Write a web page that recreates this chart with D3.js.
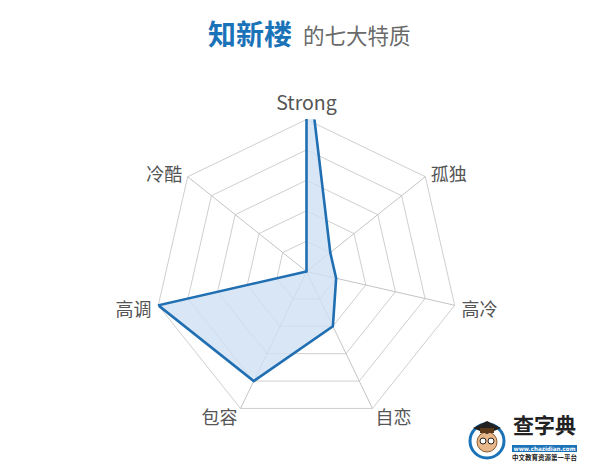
<!DOCTYPE html>
<html><head><meta charset="utf-8">
<script src="https://cdn.jsdelivr.net/npm/d3@7"></script>
<style>
html,body{margin:0;padding:0;background:#fff;}
svg{display:block;font-family:"Noto Sans CJK SC","Noto Sans",sans-serif;}
</style></head>
<body>
<svg id="chart" width="600" height="476"></svg>
<script>
const titleMain = "知新楼";
const titleSub = "的七大特质";
const categories = ["Strong", "孤独", "高冷", "自恋", "包容", "高调", "冷酷"];
const values = [7.2, 1, 1, 2, 4, 5, 0];
const ringTicks = [1, 2, 3, 4, 5];
const maxValue = 5;

const svg = d3.select("#chart");
const cx = 306.5, cy = 271.5, R = 152;
const r = d3.scaleLinear().domain([0, maxValue]).range([0, R]);
const ang = d3.scaleLinear().domain([0, categories.length]).range([0, 2 * Math.PI]);
const pt = (i, v) => [cx + Math.sin(ang(i)) * r(v), cy - Math.cos(ang(i)) * r(v)];

// title
svg.append("text").attr("x", 208).attr("y", 45).text(titleMain)
  .attr("font-size", 28).attr("font-weight", "bold").attr("fill", "#1a72b8");
svg.append("text").attr("x", 303).attr("y", 44).text(titleSub)
  .attr("font-size", 21.5).attr("fill", "#6a6a6a");

// grid rings
const g = svg.append("g");
ringTicks.forEach(tk => {
  g.append("polygon")
    .attr("points", categories.map((c, i) => pt(i, tk).join(",")).join(" "))
    .attr("fill", "none").attr("stroke", "#cfcfcf").attr("stroke-width", 1);
});
categories.forEach((c, i) => {
  const p = pt(i, maxValue);
  g.append("line").attr("x1", cx).attr("y1", cy).attr("x2", p[0]).attr("y2", p[1])
    .attr("stroke", "#c4c4c4").attr("stroke-width", 1);
});

// data polygon clipped to outer circle
svg.append("defs").append("clipPath").attr("id", "clip")
  .append("circle").attr("cx", cx).attr("cy", cy).attr("r", R + 0.5);
const line = d3.line().curve(d3.curveLinearClosed);
const pts = values.map((v, i) => pt(i, v));
svg.append("path").attr("d", line(pts)).attr("clip-path", "url(#clip)")
  .attr("fill", "#cfe0f2").attr("fill-opacity", 0.8)
  .attr("stroke", "#1f6fb2").attr("stroke-width", 2.6).attr("stroke-linejoin", "miter");

// axis labels
categories.forEach((c, i) => {
  const a = ang(i);
  const p = pt(i, maxValue);
  const s = Math.sin(a);
  const lx = cx + s * (R + 7);
  const ly = cy - Math.cos(a) * (R + 7);
  const txt = svg.append("text").text(c).attr("font-size", 18).attr("fill", "#555");
  if (i === 0) {
    txt.attr("x", p[0]).attr("y", p[1] - 10).attr("text-anchor", "middle").attr("font-size", 19.5);
  } else {
    txt.attr("x", lx).attr("y", ly + 9)
      .attr("text-anchor", s > 0 ? "start" : "end");
  }
});

// logo (watermark)
const lg = svg.append("g");
lg.append("circle").attr("cx", 487).attr("cy", 441).attr("r", 17).attr("fill", "#fff").attr("stroke", "#1a72b8").attr("stroke-width", 3);
lg.append("circle").attr("cx", 487).attr("cy", 442).attr("r", 10).attr("fill", "#e8b88a").attr("stroke", "#8a5a2b").attr("stroke-width", 1);
lg.append("path").attr("d", "M473,428 L487,421 L501,428 L487,434 Z").attr("fill", "#222");
lg.append("rect").attr("x", 480).attr("y", 428).attr("width", 14).attr("height", 5).attr("fill", "#5a3a1a");
lg.append("circle").attr("cx", 483).attr("cy", 441).attr("r", 3).attr("fill", "#fff").attr("stroke", "#222");
lg.append("circle").attr("cx", 491).attr("cy", 441).attr("r", 3).attr("fill", "#fff").attr("stroke", "#222");
lg.append("text").text("查字典").attr("x", 513).attr("y", 433).attr("font-size", 21).attr("font-weight", "bold").attr("fill", "#222");
lg.append("rect").attr("x", 512).attr("y", 445).attr("width", 65).attr("height", 7).attr("fill", "#1a72b8");
lg.append("text").text("www.chazidian.com").attr("x", 544.5).attr("y", 450.5).attr("text-anchor", "middle")
  .attr("font-size", 6).attr("font-weight", "bold").attr("fill", "#fff").attr("font-family", "DejaVu Sans")
  .attr("textLength", 62).attr("lengthAdjust", "spacingAndGlyphs");
lg.append("text").text("中文教育资源第一平台").attr("x", 544.5).attr("y", 460).attr("text-anchor", "middle")
  .attr("font-size", 6.5).attr("font-weight", "bold").attr("fill", "#222");
</script>
</body></html>
